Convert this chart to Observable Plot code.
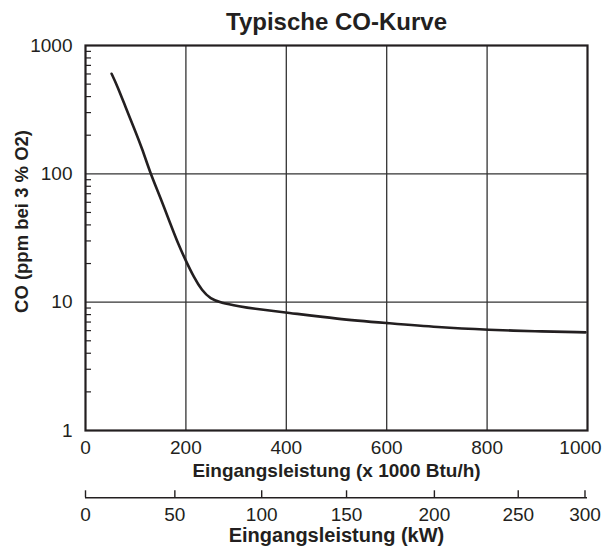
<!DOCTYPE html>
<html><head><meta charset="utf-8">
<script src="https://cdn.jsdelivr.net/npm/d3@7"></script>
<script src="https://cdn.jsdelivr.net/npm/@observablehq/plot@0.6"></script>
<style>
body{margin:0;background:#fff;}
#chart{width:606px;}
#chart svg{display:block;}
</style></head><body><div id="chart"></div>
<script>
// ---- data ----
const btuX  = [52, 63, 80, 96, 113, 129.5, 149, 169, 186, 199, 216, 232, 249, 269, 309, 330, 402, 501, 603, 701, 806, 893, 996];
const coPpm = [602, 488, 330, 231, 157, 100, 65.7, 40.8, 27.6, 21.4, 15.6, 12.3, 10.6, 9.9, 9.25, 8.95, 8.3, 7.4, 6.86, 6.37, 6.08, 5.93, 5.82];
const xTicks = [0, 200, 400, 600, 800, 1000];
const gridX = [200, 400, 600, 800];
const yTicks = [1, 10, 100, 1000];
const gridY = [10, 100];
const minorY = [2,3,4,5,6,7,8,9,20,30,40,50,60,70,80,90,200,300,400,500,600,700,800,900];
const kwLabels = ["0", "50", "100", "150", "200", "250", "300"];
const kwTickBtu = [0, 178, 351, 520, 695, 862, 995];
const title = "Typische CO-Kurve";
const xLabel = "Eingangsleistung (x 1000 Btu/h)";
const yLabel = "CO (ppm bei 3 % O2)";
const kwLabel = "Eingangsleistung (kW)";

// ---- layout / style ----
const W = 606, ML = 85, MR = 19;
const FONT = "'Liberation Sans', Arial, Helvetica, sans-serif";
const INK = "#231f20";

const main = Plot.plot({
  width: W, height: 485,
  marginTop: 45, marginBottom: 55, marginLeft: ML, marginRight: MR,
  style: {fontFamily: FONT, background: "white", color: INK, overflow: "visible"},
  x: {type: "linear", domain: [0, 1000], axis: null},
  y: {type: "log", domain: [1, 1000], axis: null},
  marks: [
    Plot.ruleX(gridX, {stroke: "#333", strokeWidth: 1.3}),
    Plot.ruleY(gridY, {stroke: "#333", strokeWidth: 1.3}),
    Plot.tickY(minorY, {y: d => d, stroke: INK, strokeWidth: 1.2, insetRight: W - ML - MR - 6}),
    Plot.line(btuX, {x: btuX, y: coPpm, stroke: INK, strokeWidth: 2.6, curve: "basis"}),
    Plot.frame({stroke: INK, strokeWidth: 2.2}),
    Plot.text(yTicks, {y: d => d, text: d => String(d), frameAnchor: "left", dx: -13, textAnchor: "end", lineAnchor: "middle", fontSize: 19, fill: INK}),
    Plot.text(xTicks.filter(d => d < 1000), {x: d => d, text: d => String(d), frameAnchor: "bottom", dy: 17.5, lineAnchor: "middle", fontSize: 19, fill: INK}),
    Plot.text(xTicks.filter(d => d === 1000), {x: d => d, text: d => String(d), frameAnchor: "bottom", dy: 17.5, dx: -7, lineAnchor: "middle", fontSize: 19, fill: INK}),
    Plot.text([xLabel], {text: d => d, frameAnchor: "bottom", dy: 40, lineAnchor: "middle", fontSize: 19, fontWeight: "bold", fill: INK}),
    Plot.text([yLabel], {text: d => d, frameAnchor: "left", dx: -63, dy: -16.5, rotate: -90, textAnchor: "middle", lineAnchor: "middle", fontSize: 18.5, fontWeight: "bold", fill: INK}),
    Plot.text([title], {text: d => d, frameAnchor: "top", dy: -23, lineAnchor: "middle", fontSize: 24, fontWeight: "bold", fill: INK})
  ]
});

const lower = Plot.plot({
  width: W, height: 67,
  marginTop: 5.3, marginBottom: 54.7, marginLeft: ML, marginRight: MR,
  style: {fontFamily: FONT, background: "white", color: INK, overflow: "visible"},
  x: {type: "linear", domain: [0, 1000], axis: null},
  y: {domain: [0, 1], axis: null},
  marks: [
    Plot.ruleY([0], {stroke: INK, strokeWidth: 1.4}),
    Plot.tickX(kwTickBtu, {x: d => d, stroke: INK, strokeWidth: 1.4}),
    Plot.text(kwTickBtu, {x: d => d, text: (d, i) => kwLabels[i], frameAnchor: "bottom", dy: 17, lineAnchor: "middle", fontSize: 19, fill: INK}),
    Plot.text([kwLabel], {text: d => d, frameAnchor: "bottom", dy: 38, lineAnchor: "middle", fontSize: 20, fontWeight: "bold", fill: INK})
  ]
});

const el = document.getElementById("chart");
el.appendChild(main);
el.appendChild(lower);
</script></body></html>
